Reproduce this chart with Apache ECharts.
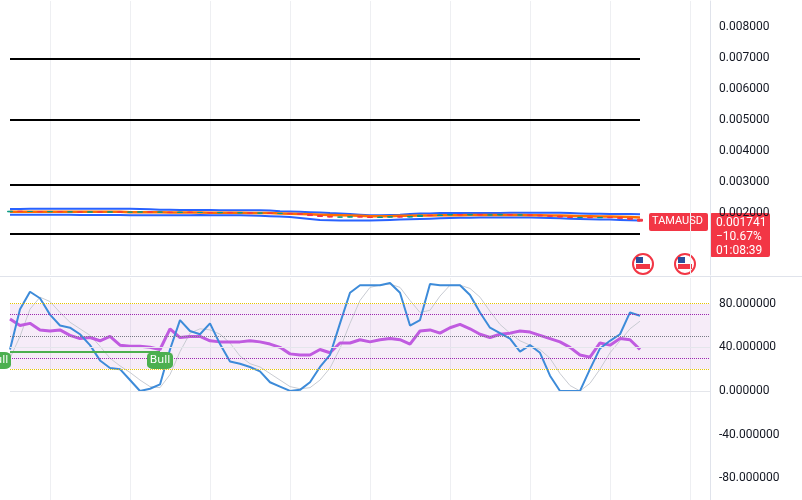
<!DOCTYPE html>
<html><head><meta charset="utf-8">
<script src="https://cdn.jsdelivr.net/npm/echarts@6/dist/echarts.min.js"></script>
<style>html,body{margin:0;padding:0;background:#fff}#c{width:802px;height:500px}</style>
</head><body><div id="c"></div>
<script>
var N = 71;
var cats = []; for (var i = 0; i < N; i++) cats.push(i);
var closes = [0.00206,0.00205,0.00205,0.00204,0.00205,0.00204,0.00204,0.00203,0.00204,0.00203,0.00204,0.00203,0.00203,0.00204,0.00203,0.00203,0.00202,0.00203,0.00202,0.00202,0.00201,0.00202,0.00201,0.00201,0.00200,0.00200,0.00199,0.00199,0.00198,0.00196,0.00192,0.00189,0.00187,0.00187,0.00188,0.00187,0.00186,0.00187,0.00188,0.00187,0.00189,0.00193,0.00192,0.00194,0.00195,0.00194,0.00195,0.00194,0.00194,0.00195,0.00194,0.00194,0.00193,0.00191,0.00190,0.00187,0.00186,0.00186,0.00185,0.00186,0.00185,0.00183,0.00180,0.00174];
var upper = [0.00213,0.00213,0.00214,0.00214,0.00214,0.00214,0.00214,0.00214,0.00214,0.00214,0.00214,0.00214,0.00214,0.00213,0.00212,0.00211,0.00211,0.00210,0.00210,0.00210,0.00210,0.00209,0.00209,0.00209,0.00209,0.00209,0.00208,0.00206,0.00205,0.00204,0.00203,0.00202,0.00200,0.00199,0.00197,0.00195,0.00193,0.00193,0.00194,0.00195,0.00197,0.00199,0.00199,0.00200,0.00200,0.00200,0.00200,0.00200,0.00200,0.00200,0.00201,0.00201,0.00201,0.00201,0.00201,0.00201,0.00200,0.00199,0.00198,0.00198,0.00197,0.00197,0.00197,0.00196];
var mid = [0.00204,0.00204,0.00204,0.00204,0.00204,0.00204,0.00204,0.00204,0.00204,0.00204,0.00204,0.00204,0.00203,0.00203,0.00203,0.00203,0.00202,0.00202,0.00202,0.00202,0.00201,0.00201,0.00201,0.00201,0.00200,0.00200,0.00200,0.00199,0.00198,0.00197,0.00196,0.00195,0.00194,0.00193,0.00192,0.00191,0.00190,0.00190,0.00190,0.00191,0.00191,0.00192,0.00192,0.00193,0.00193,0.00193,0.00194,0.00194,0.00194,0.00194,0.00194,0.00194,0.00193,0.00193,0.00192,0.00192,0.00191,0.00190,0.00190,0.00189,0.00189,0.00188,0.00187,0.00186];
var lower = [0.00195,0.00195,0.00195,0.00195,0.00195,0.00195,0.00195,0.00194,0.00194,0.00194,0.00194,0.00194,0.00193,0.00193,0.00193,0.00193,0.00193,0.00193,0.00193,0.00194,0.00193,0.00193,0.00193,0.00193,0.00192,0.00191,0.00190,0.00189,0.00187,0.00184,0.00181,0.00178,0.00177,0.00176,0.00176,0.00176,0.00176,0.00177,0.00178,0.00179,0.00180,0.00181,0.00182,0.00183,0.00184,0.00185,0.00185,0.00186,0.00186,0.00186,0.00186,0.00186,0.00186,0.00185,0.00184,0.00183,0.00182,0.00181,0.00180,0.00179,0.00179,0.00178,0.00177,0.00176];
var stochK = [38,75,91,85,70,60,58,52,42,28,21,20,10,0,2,6,38,65,55,52,62,43,27,25,22,18,8,4,0,1,8,22,33,62,90,97,97,97,99,90,60,65,98,97,97,97,88,72,58,53,48,36,42,35,14,0,0,0,20,39,46,52,72,69];
var stochD = [30,50,75,86,82,72,63,57,51,41,30,23,17,10,4,3,15,36,53,57,56,52,44,32,25,22,16,10,4,2,3,10,21,39,62,83,95,97,98,95,83,72,74,87,97,97,94,86,73,61,53,46,42,38,30,16,5,0,7,20,35,46,57,64];
var rsi = [66,60,62,56,55,56,51,48,49,46,50,42,41,41,40,38,57,49,50,50,46,45,45,45,46,45,43,40,34,33,33,38,35,44,44,47,45,47,48,47,43,55,56,53,58,61,57,52,49,52,53,55,54,51,48,45,40,33,31,44,42,48,47,38];
var levels = [0.007, 0.005, 0.0029, 0.00133];
var rsiTicks = [-80, -40, 0, 40, 80];

var candles = closes.map(function (c, i) {
  var o = i ? closes[i - 1] : c - 0.00002;
  return [o, c, Math.min(o, c) - 0.000008, Math.max(o, c) + 0.000008];
});
var vline = { show: true, interval: function (i) { return i % 8 === 4; }, lineStyle: { color: '#eeeff2' } };
var chart = echarts.init(document.getElementById('c'));
chart.setOption({
  animation: false,
  grid: [{ left: 10, right: 92, top: 1, height: 274 }, { left: 10, right: 92, top: 277, height: 223 }],
  xAxis: [0, 1].map(function (g) {
    return { type: 'category', gridIndex: g, data: cats, boundaryGap: false, axisLine: { show: false }, axisTick: { show: false }, axisLabel: { show: false }, splitLine: vline };
  }),
  yAxis: [
    { gridIndex: 0, position: 'right', min: 0, max: 0.00885, interval: 0.001, axisLine: { show: true, lineStyle: { color: '#e0e3eb' } },
      axisLabel: { color: '#131722', fontSize: 12, fontFamily: 'Roboto', margin: 9, formatter: function (v) { return v >= 0.0019 && v < 0.0085 ? v.toFixed(6) : ''; } },
      splitLine: { show: false } },
    { gridIndex: 1, position: 'right', min: -100, max: 104.5, interval: 20, axisLine: { show: true, lineStyle: { color: '#e0e3eb' } },
      axisLabel: { color: '#131722', fontSize: 12, fontFamily: 'Roboto', margin: 9, formatter: function (v) { return rsiTicks.indexOf(v) >= 0 ? v.toFixed(6) : ''; } },
      splitLine: { show: false } }
  ],
  series: [
    { type: 'line', data: upper, symbol: 'none', lineStyle: { color: '#2962ff', width: 2 }, z: 3,
      markLine: { silent: true, symbol: 'none', label: { show: false },
        data: levels.map(function (v) { return [{ coord: [0, v] }, { coord: [63, v] }]; }),
        lineStyle: { color: '#000', width: 2, type: 'solid' } } },
    { type: 'line', data: lower, symbol: 'none', lineStyle: { color: '#2962ff', width: 2 }, z: 3 },
    { type: 'line', data: mid, symbol: 'none', lineStyle: { color: '#ff6d00', width: 2.5 }, z: 4,
      markLine: { silent: true, symbol: 'none', label: { show: false }, data: [{ yAxis: 0.001741 }], lineStyle: { color: '#f23645', type: 'dotted', width: 1 } } },
    { type: 'candlestick', data: candles, barWidth: 5, z: 5, itemStyle: { color: '#089981', color0: '#f23645', borderColor: '#089981', borderColor0: '#f23645' } },
    { type: 'line', xAxisIndex: 1, yAxisIndex: 1, data: stochD, symbol: 'none', lineStyle: { color: '#c8cbd2', width: 1 }, z: 2,
      markArea: { silent: true, itemStyle: { color: 'rgba(156,39,176,0.09)' }, data: [[{ yAxis: 20 }, { yAxis: 80 }]] },
      markLine: { silent: true, symbol: 'none', label: { show: false }, data: [
        { yAxis: 40, lineStyle: { color: '#e4e6eb', type: 'solid' } },
        { yAxis: 0.001, lineStyle: { color: '#e4e6eb', type: 'solid' } },
        { yAxis: 80, lineStyle: { color: '#e6c700', type: 'dotted' } },
        { yAxis: 20, lineStyle: { color: '#e6c700', type: 'dotted' } },
        { yAxis: 70, lineStyle: { color: '#9c27b0', type: 'dotted' } },
        { yAxis: 30, lineStyle: { color: '#9c27b0', type: 'dotted' } },
        { yAxis: 50, lineStyle: { color: '#787b86', type: 'dotted' } }] } },
    { type: 'line', xAxisIndex: 1, yAxisIndex: 1, data: rsi, symbol: 'none', lineStyle: { color: '#c05be0', width: 3 }, z: 3,
      markLine: { silent: true, symbol: 'none', label: { show: false }, data: [[{ coord: [0, 36] }, { coord: [15, 36] }]], lineStyle: { color: '#4caf50', width: 2, type: 'solid' } },
      markPoint: { silent: true, symbol: 'roundRect', symbolSize: [26, 17], itemStyle: { color: '#4caf50' },
        label: { color: '#fff', fontSize: 11, fontFamily: 'DejaVu Sans' },
        data: [{ coord: [15, 28], value: 'Bull' }, { coord: [0, 28], value: 'Bull', symbolOffset: [-12, 0] }] } },
    { type: 'line', xAxisIndex: 1, yAxisIndex: 1, data: stochK, symbol: 'none', lineStyle: { color: '#3d8bd9', width: 2 }, z: 4 }
  ],
  graphic: [
    { type: 'rect', shape: { x: 649, y: 213, width: 59, height: 18, r: 2 }, style: { fill: '#f23645' } },
    { type: 'text', x: 652, y: 216, style: { text: 'TAMAUSD', fill: '#fff', font: '11px Roboto' } },
    { type: 'rect', shape: { x: 710, y: 213, width: 60, height: 44, r: 2 }, style: { fill: '#f23645' } },
    { type: 'text', x: 716, y: 216, style: { text: '0.001741\n−10.67%\n01:08:39', fill: '#fff', font: '12px Roboto', lineHeight: 14 } },
    { type: 'circle', shape: { cx: 643, cy: 264, r: 10 }, style: { fill: '#fff', stroke: '#f23645', lineWidth: 2 } },
    { type: 'rect', shape: { x: 636, y: 264, width: 14, height: 5 }, style: { fill: '#f23645' } },
    { type: 'rect', shape: { x: 636, y: 257, width: 7, height: 6 }, style: { fill: '#2a4f9c' } },
    { type: 'circle', shape: { cx: 685, cy: 264, r: 10 }, style: { fill: '#fff', stroke: '#f23645', lineWidth: 2 } },
    { type: 'rect', shape: { x: 678, y: 264, width: 14, height: 5 }, style: { fill: '#f23645' } },
    { type: 'rect', shape: { x: 678, y: 257, width: 7, height: 6 }, style: { fill: '#2a4f9c' } },
    { type: 'rect', z: 100, shape: { x: 0, y: 275, width: 709, height: 3 }, style: { fill: '#fff' } },
    { type: 'line', z: 101, shape: { x1: 0, y1: 276.5, x2: 802, y2: 276.5 }, style: { stroke: '#e0e3eb' } }
  ]
});
</script></body></html>
